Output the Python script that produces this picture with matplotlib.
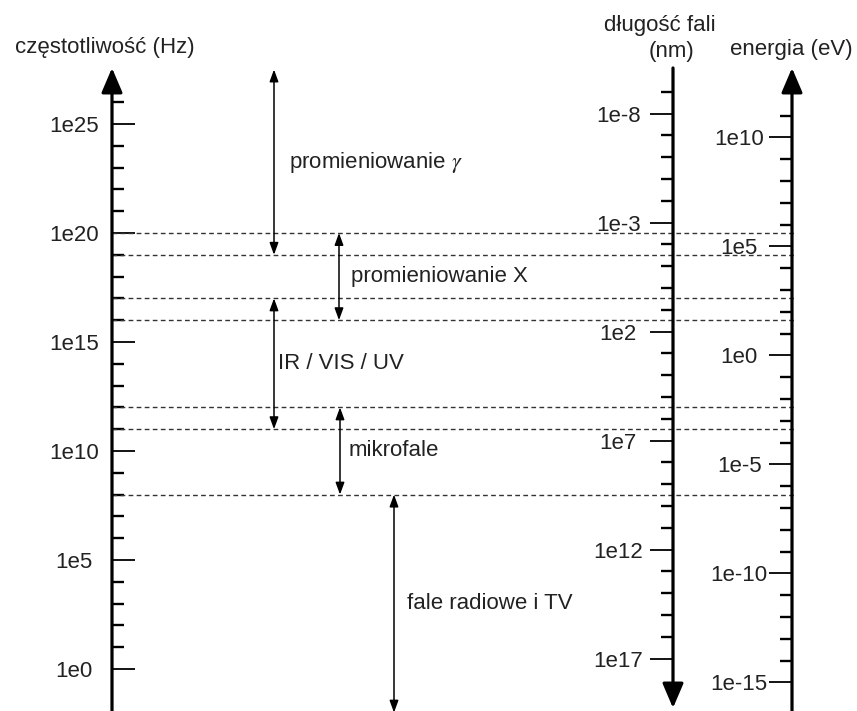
import numpy as np
import matplotlib.pyplot as plt
from matplotlib.ticker import FixedLocator, NullFormatter

plt.rcParams['font.family'] = ['Liberation Sans', 'DejaVu Sans']
plt.rcParams['mathtext.fontset'] = 'stix'

C_NM = 2.998e17     # speed of light, nm/s
H_EV = 4.1357e-15   # Planck constant, eV*s

# dashed band edges (Hz)
boundaries = [1e20, 1e19, 1e17, 1e16, 1e12, 1e11, 1e8]

# bands of the spectrum (Hz)
bands = [r"promieniowanie $\gamma$", "promieniowanie X", "IR / VIS / UV",
         "mikrofale", "fale radiowe i TV"]
band_low = [1e19, 1e16, 1e11, 1e8, 1e-2]
band_high = [10**27.5, 1e20, 1e17, 1e12, 1e8]

# axis ticks
freq_major = [1e0, 1e5, 1e10, 1e15, 1e20, 1e25]
freq_labels = ["1e0", "1e5", "1e10", "1e15", "1e20", "1e25"]
freq_minor = [10.0**k for k in range(0, 27)]

wave_major = [1e-8, 1e-3, 1e2, 1e7, 1e12, 1e17]
wave_labels = ["1e-8", "1e-3", "1e2", "1e7", "1e12", "1e17"]
wave_minor = [10.0**k for k in range(-9, 18)]

energy_major = [1e10, 1e5, 1e0, 1e-5, 1e-10, 1e-15]
energy_labels = ["1e10", "1e5", "1e0", "1e-5", "1e-10", "1e-15"]
energy_minor = [10.0**k for k in range(-15, 12)]

# layout
fmin, fmax = 10**-1.927, 10**30.688
f_tip = 10**27.57
x_freq, x_wave, x_energy = 112, 673, 792
arrow_x = [274, 339, 274, 340, 394]
label_dx = [15, 12, 4, 9, 13]
FS = 16
TXT = '#222222'

fig = plt.figure(figsize=(8.57, 7.11), dpi=100)
ax = fig.add_axes([0, 0, 1, 1])
ax.set_xlim(0, 857)
ax.set_yscale('log')
ax.set_ylim(fmin, fmax)
ax.xaxis.set_visible(False)
ax.patch.set_visible(False)

ax2 = ax.twinx()   # wavelength
ax2.set_yscale('log')
ax2.set_ylim(C_NM / fmin, C_NM / fmax)

ax3 = ax.twinx()   # energy
ax3.set_yscale('log')
ax3.set_ylim(H_EV * fmin, H_EV * fmax)


def setup_axis(a, xpos, major, labels, minor, direction, pad):
    for s in ['top', 'right', 'bottom', 'left']:
        a.spines[s].set_visible(False)
    a.spines['left'].set_position(('data', xpos))
    a.yaxis.set_ticks_position('left')
    a.set_yticks(major, labels=labels, ha='center', fontsize=FS, color=TXT)
    a.yaxis.set_minor_locator(FixedLocator(minor))
    a.yaxis.set_minor_formatter(NullFormatter())
    a.tick_params(axis='y', which='major', direction=direction, length=16.5,
                  width=1.3, pad=pad)
    a.tick_params(axis='y', which='minor', direction=direction, length=8.5,
                  width=1.7)


setup_axis(ax, x_freq, freq_major, freq_labels, freq_minor, 'in', 27.4)
setup_axis(ax2, x_wave, wave_major, wave_labels, wave_minor, 'out', 23)
setup_axis(ax3, x_energy, energy_major, energy_labels, energy_minor, 'out', 21.6)

# axis lines with arrow heads
axis_arrow = dict(arrowstyle='-|>,head_length=0.75,head_width=0.32', lw=2.3,
                  color='black', shrinkA=0, shrinkB=0, mutation_scale=20)
ax.annotate('', xy=(x_freq, f_tip), xytext=(x_freq, fmin), arrowprops=axis_arrow)
ax.annotate('', xy=(x_energy, f_tip), xytext=(x_energy, fmin), arrowprops=axis_arrow)
ax.annotate('', xy=(x_wave, 10**-1.79), xytext=(x_wave, f_tip), arrowprops=axis_arrow)

# dashed band edges
ax.hlines(boundaries, x_freq, 796, colors='#333333', linestyles=(0, (3.4, 2.4)), lw=1.0)

# band arrows and labels
for name, lo, hi, xa, dx in zip(bands, band_low, band_high, arrow_x, label_dx):
    ax.annotate('', xy=(xa, hi), xytext=(xa, lo),
                arrowprops=dict(arrowstyle='<|-|>,head_length=0.6,head_width=0.22',
                                mutation_scale=12, lw=1.1, color='black',
                                shrinkA=0, shrinkB=0))
    ax.text(xa + dx, np.sqrt(lo * hi), name, ha='left', va='center',
            fontsize=FS, color=TXT)

# axis titles
W, H = 857, 711
fig.text(105 / W, 1 - 48 / H, "częstotliwość (Hz)", ha='center', va='center',
         fontsize=FS, color=TXT)
fig.text(660 / W, 1 - 25 / H, "długość fali", ha='center', va='center',
         fontsize=FS, color=TXT)
fig.text(672 / W, 1 - 52 / H, "(nm)", ha='center', va='center',
         fontsize=FS, color=TXT)
fig.text(791 / W, 1 - 50 / H, "energia (eV)", ha='center', va='center',
         fontsize=FS, color=TXT)

fig.savefig("out.png", dpi=100)
